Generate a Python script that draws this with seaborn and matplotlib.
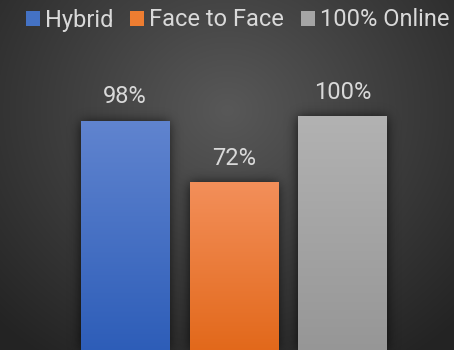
import numpy as np
import matplotlib
matplotlib.use("Agg")
import matplotlib.pyplot as plt
import seaborn as sns
from matplotlib.patches import Patch
from matplotlib.colors import to_rgb

# Data
categories = ["Hybrid", "Face to Face", "100% Online"]
values = [98, 72, 100]
value_labels = ["98%", "72%", "100%"]

# Styling
base_colors = ["#4472c4", "#ed7d31", "#a5a5a5"]
top_colors = ["#6084cf", "#f38f5a", "#b2b2b2"]
bottom_colors = ["#2d5db8", "#e2681a", "#969696"]
text_color = "#d9d9d9"

W, H = 454, 350
sns.set_theme(style="white")
plt.rcParams["font.family"] = ["Roboto", "DejaVu Sans"]

fig = plt.figure(figsize=(W / 100, H / 100), dpi=100)
fig.patch.set_facecolor("#333333")
ax = fig.add_axes([0, 0, 1, 1])

sns.barplot(x=categories, y=values, hue=categories, palette=base_colors,
            width=0.81, saturation=1, legend=False, ax=ax)

x0, x1 = -1.149, 3.025
y0, y1 = 1.15, 149.6
ax.set_xlim(x0, x1)
ax.set_ylim(y0, y1)
ax.set_axis_off()

# Radial background
yy, xx = np.mgrid[0:H, 0:W].astype(float)
r = np.sqrt(((xx - 227) / 330) ** 2 + ((yy - 110) / 300) ** 2)
r = np.clip(r, 0, 1)
c_in = np.array(to_rgb("#585858"))
c_out = np.array(to_rgb("#232323"))
bg = c_in[None, None, :] * (1 - r[..., None]) + c_out[None, None, :] * r[..., None]
ax.imshow(bg, extent=(x0, x1, y0, y1), aspect="auto", zorder=0,
          interpolation="bilinear")

# Soft shadow around the bars
mask = np.zeros((H, W))
for p in ax.patches:
    (px0, py0), (px1, py1) = ax.transData.transform(
        [(p.get_x(), p.get_y()), (p.get_x() + p.get_width(), p.get_y() + p.get_height())])
    c0, c1 = int(round(px0)), int(round(px1))
    r0, r1 = int(round(H - py1)), int(round(H - py0))
    mask[max(r0, 0):min(r1, H), max(c0, 0):min(c1, W)] = 1.0
k = np.exp(-0.5 * (np.arange(-18, 19) / 6.0) ** 2)
k /= k.sum()
blur = np.apply_along_axis(lambda v: np.convolve(v, k, mode="same"), 1, mask)
blur = np.apply_along_axis(lambda v: np.convolve(v, k, mode="same"), 0, blur)
shadow = np.zeros((H, W, 4))
shadow[..., 3] = np.clip(blur * 0.75, 0, 1)
ax.imshow(shadow, extent=(x0, x1, y0, y1), aspect="auto", zorder=1,
          interpolation="bilinear")

# Gradient fill for each bar
for p, ct, cb in zip(ax.patches, top_colors, bottom_colors):
    t = np.linspace(0, 1, 256)[:, None]
    grad = (np.array(to_rgb(ct))[None, :] * (1 - t) + np.array(to_rgb(cb))[None, :] * t)
    grad = grad[:, None, :]
    ax.imshow(grad, extent=(p.get_x(), p.get_x() + p.get_width(), 0, p.get_height()),
              aspect="auto", zorder=2, interpolation="bilinear")
    p.set_facecolor("none")
    p.set_edgecolor("none")

ax.set_xlim(x0, x1)
ax.set_ylim(y0, y1)

# Value labels
for cont, lab in zip(ax.containers, value_labels):
    ax.bar_label(cont, labels=[lab], padding=9.5, color=text_color, fontsize=17)

# Legend
handles = [Patch(facecolor=c, edgecolor="none") for c in base_colors]
fig.legend(handles=handles, labels=categories, loc="center",
           bbox_to_anchor=(237.5 / W, 1 - 20 / H), ncol=3, frameon=False,
           fontsize=17, labelcolor=text_color, handlelength=0.59,
           handleheight=0.59, handletextpad=0.21, columnspacing=0.72,
           borderpad=0, borderaxespad=0)

fig.savefig("out.png", dpi=100, facecolor=fig.get_facecolor())
